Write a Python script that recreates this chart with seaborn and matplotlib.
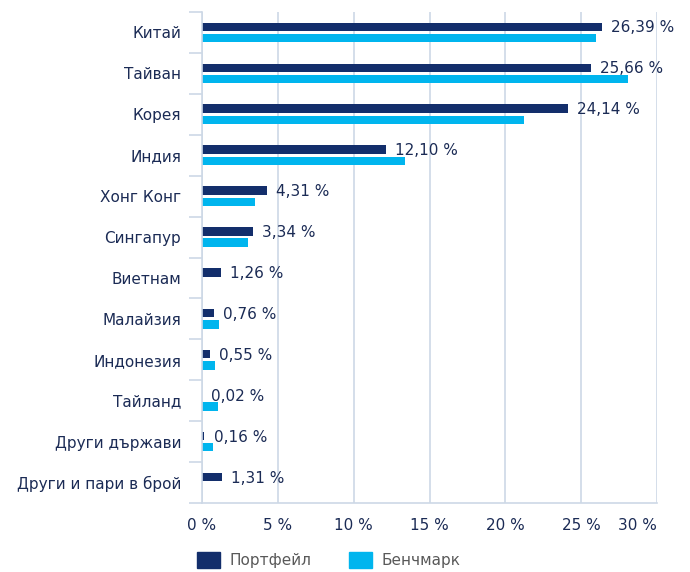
import numpy as np
import pandas as pd
import matplotlib
matplotlib.use('Agg')
import matplotlib.pyplot as plt
import matplotlib.patches as mpatches
import seaborn as sns

# Данни
countries = ['Китай', 'Тайван', 'Корея', 'Индия', 'Хонг Конг', 'Сингапур',
             'Виетнам', 'Малайзия', 'Индонезия', 'Тайланд', 'Други държави',
             'Други и пари в брой']
portfolio = [26.39, 25.66, 24.14, 12.10, 4.31, 3.34, 1.26, 0.76, 0.55, 0.02,
             0.16, 1.31]
benchmark = [25.95, 28.10, 21.20, 13.40, 3.50, 3.05, 0.0, 1.15, 0.85, 1.05,
             0.75, 0.0]
series_names = ['Портфейл', 'Бенчмарк']
xticks = [0, 5, 10, 15, 20, 25, 30]

navy = '#132e6b'
cyan = '#00b5ee'
grid_col = '#cdd8e6'
text_col = '#1b2b55'

df = pd.DataFrame({
    'country': countries * 2,
    'value': portfolio + benchmark,
    'series': [series_names[0]] * len(countries) + [series_names[1]] * len(countries),
})

sns.set_style('white')
plt.rcParams['font.family'] = ['DejaVu Sans']

fig = plt.figure(figsize=(6.9, 5.72), dpi=100)
ax = fig.add_axes([202 / 690, 1 - 503 / 572, 455 / 690, 491 / 572])

sns.barplot(data=df, y='country', x='value', hue='series', orient='h',
            palette=[navy, cyan], saturation=1, width=0.55, gap=0.25,
            linewidth=0, ax=ax, legend=False,
            order=countries, hue_order=series_names)

# Етикети на портфейла
for i, v in enumerate(portfolio):
    ax.text(v + 0.6, i - 0.11, f'{v:.2f} %'.replace('.', ','), va='center',
            ha='left', fontsize=11, color=text_col)

ax.set_xlim(0, 30)
ax.set_ylim(len(countries) - 0.5, -0.5)
ax.set_xticks(xticks)
ax.set_xticklabels([f'{t} %' for t in xticks])
ax.get_xticklabels()[-1].set_horizontalalignment('right')
ax.set_xlabel('')
ax.set_ylabel('')

ax.xaxis.grid(True, color=grid_col, linewidth=1.2)
ax.set_axisbelow(True)
for s in ['top', 'right']:
    ax.spines[s].set_visible(False)
for s in ['left', 'bottom']:
    ax.spines[s].set_color(grid_col)
    ax.spines[s].set_linewidth(1.2)

ax.set_yticks(np.arange(-0.5, len(countries), 1), minor=True)
ax.tick_params(axis='y', which='minor', length=9.5, width=1.2, color=grid_col, left=True)
ax.tick_params(axis='y', which='major', length=0, pad=15, labelsize=11, labelcolor=text_col)
ax.tick_params(axis='x', which='both', length=0, pad=11, labelsize=11, labelcolor=text_col)

handles = [mpatches.Patch(color=navy, label=series_names[0]),
           mpatches.Patch(color=cyan, label=series_names[1])]
fig.legend(handles=handles, loc='center left', bbox_to_anchor=(197 / 690, 1 - 560 / 572),
           ncol=2, frameon=False, fontsize=11, handlelength=1.5, handleheight=1.2,
           handletextpad=0.6, columnspacing=2.5, borderpad=0, borderaxespad=0,
           labelcolor='#595959')

fig.savefig('out.png', dpi=100)
